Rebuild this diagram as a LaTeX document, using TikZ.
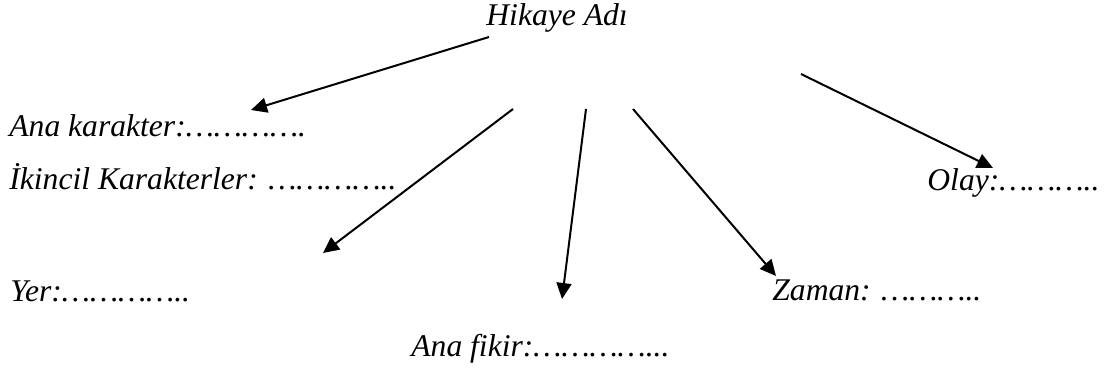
\documentclass[tikz,border=0pt]{standalone}
\usepackage{fontspec}
\setmainfont{Liberation Serif}
\usetikzlibrary{arrows.meta}
\tikzset{
	label/.style={anchor=base west, inner sep=0pt, font=\itshape\fontsize{15.8}{19}\selectfont},
	okbox/.style={-{Triangle[length=8pt,width=7.5pt]}, line width=1pt}
}

\begin{document}
\begin{tikzpicture}[x=0.5pt,y=-0.5pt]
	\useasboundingbox (0,0) rectangle (1114,374);

	\node[label] (baslik) at (486,26) {Hikaye Adı};
	\node[label] (anakar) at (9,137) {Ana karakter:………….};
	\node[label] (ikincil) at (9,190) {İkincil Karakterler: …………..};
	\node[label] (olay) at (927,191) {Olay:………..};
	\node[label] (yer) at (10,301) {Yer:…………..};
	\node[label] (zaman) at (772,300) {Zaman: ………..};
	\node[label] (fikir) at (411,356) {Ana fikir:…………...};

	% ok uclari
	\coordinate (b1) at (489,37);
	\coordinate (u1) at (251,110);
	\coordinate (b2) at (801,74);
	\coordinate (u2) at (993,168);
	\coordinate (b3) at (513,109);
	\coordinate (u3) at (323,253);
	\coordinate (b4) at (586,109);
	\coordinate (u4) at (562,299);
	\coordinate (b5) at (633,109);
	\coordinate (u5) at (776,276);

	\foreach \i in {1,...,5}
	{
		\draw[okbox] (b\i) -- (u\i);
	};
\end{tikzpicture}
\end{document}
